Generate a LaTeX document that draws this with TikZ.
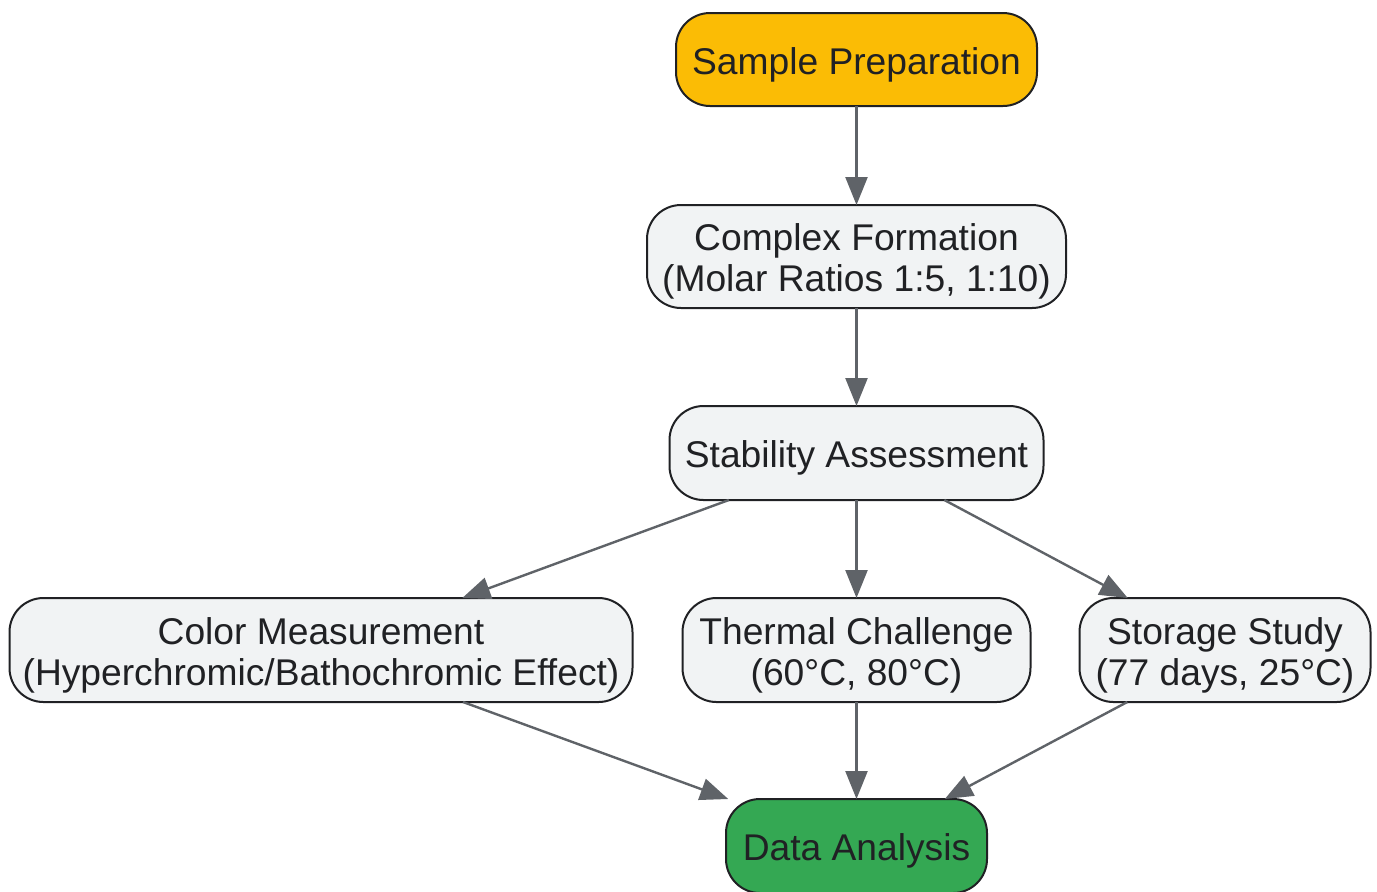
\documentclass[tikz,border=0pt]{standalone}
\usepackage{fontspec}
\setmainfont{Liberation Sans}
\usepackage{tikz}
\usetikzlibrary{positioning, arrows.meta}
\definecolor{borde}{HTML}{202124}
\definecolor{gris}{HTML}{F1F3F4}
\definecolor{flechagris}{HTML}{5F6368}
\definecolor{amarillo}{HTML}{FBBC05}
\definecolor{verde}{HTML}{34A853}
\newcommand{\subir}{\rule{0pt}{18.5pt}}
\tikzset{caja/.style={draw=borde,line width=1pt,outer sep=0pt,rounded corners=17pt,fill=gris,align=center,text=borde,inner xsep=3pt,font=\fontsize{18.6}{20.5}\selectfont}}
\tikzset{conector/.style={draw=flechagris,line width=1.2pt,-{Triangle[length=14pt,width=11pt]}}}

\begin{document}
\begin{tikzpicture}[
                node distance = 48pt
            ]
                \useasboundingbox (0,0) rectangle (688.5pt,-445.5pt);
                \node[caja, fill=amarillo, minimum width=180.5pt, minimum height=46.5pt] (prep) at (428.25pt,-29.75pt) {\subir Sample Preparation};
                \node[caja, minimum width=209.5pt, minimum height=51.5pt, below=49.5pt of prep] (complejo) {\subir Complex Formation\\(Molar Ratios 1:5, 1:10)};
                \node[caja, minimum width=187pt, minimum height=47pt, below=49pt of complejo] (estab) {\subir Stability Assessment};
                \node[caja, minimum width=174pt, minimum height=52pt, below=49pt of estab] (termico) {\subir Thermal Challenge\\(60°C, 80°C)};
                \node[caja, minimum width=311.5pt, minimum height=52pt, left=25pt of termico] (color) {\subir Color Measurement\\(Hyperchromic/Bathochromic Effect)};
                \node[caja, minimum width=145.5pt, minimum height=52pt, right=24.5pt of termico] (almacen) {\subir Storage Study\\(77 days, 25°C)};
                \node[caja, fill=verde, minimum width=130.5pt, minimum height=47pt, below=48.5pt of termico] (datos) {\subir Data Analysis};

                \draw[conector] (prep) to [] (complejo);
                \draw[conector] (complejo) to [] (estab);
                \draw[conector] (estab) to [] (color);
                \draw[conector] (estab) to [] (termico);
                \draw[conector] (estab) to [] (almacen);
                \draw[conector] (color) to [] (datos);
                \draw[conector] (termico) to [] (datos);
                \draw[conector] (almacen) to [] (datos);
            \end{tikzpicture}
\end{document}
